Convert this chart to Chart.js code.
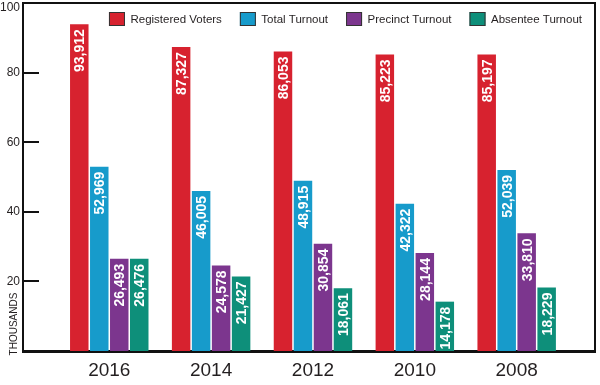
<!DOCTYPE html>
<html><head><meta charset="utf-8">
<script src="https://cdn.jsdelivr.net/npm/chart.js@4"></script>
<style>html,body{margin:0;padding:0;background:#fff}#wrap{width:600px;height:385px}</style>
</head><body><div id="wrap"><canvas id="c" width="600" height="385"></canvas></div>
<script>
const years = ['2016', '2014', '2012', '2010', '2008'];
const registeredVoters = [93912, 87327, 86053, 85223, 85197];
const totalTurnout = [52969, 46005, 48915, 42322, 52039];
const precinctTurnout = [26493, 24578, 30854, 28144, 33810];
const absenteeTurnout = [26476, 21427, 18061, 14178, 18229];
const yTicks = [20000, 40000, 60000, 80000, 100000];
const seriesNames = ['Registered Voters', 'Total Turnout', 'Precinct Turnout', 'Absentee Turnout'];
const seriesColors = ['#D7222F', '#179BCB', '#7C368E', '#0E8F7A'];

const FONT = '"Liberation Sans", Arial, Helvetica, sans-serif';
const INK = '#231f20';

const toPts = arr => arr.map((v, i) => ({ x: i, y: v }));
const datasets = [registeredVoters, totalTurnout, precinctTurnout, absenteeTurnout].map((arr, k) => ({
  label: seriesNames[k],
  data: toPts(arr),
  backgroundColor: seriesColors[k],
  borderWidth: 0,
  categoryPercentage: 0.785,
  barPercentage: 0.925
}));

const barLabels = {
  id: 'barLabels',
  afterDatasetsDraw(chart) {
    const ctx = chart.ctx;
    ctx.save();
    ctx.fillStyle = '#fff';
    ctx.font = 'bold 14px ' + FONT;
    ctx.textAlign = 'right';
    ctx.textBaseline = 'middle';
    chart.data.datasets.forEach((ds, di) => {
      const meta = chart.getDatasetMeta(di);
      meta.data.forEach((el, i) => {
        const v = ds.data[i].y;
        ctx.save();
        ctx.translate(el.x, el.y + 5);
        ctx.rotate(-Math.PI / 2);
        ctx.fillText(v.toLocaleString('en-US'), 0, 1);
        ctx.restore();
      });
    });
    ctx.restore();
  }
};

const frame = {
  id: 'frame',
  afterDraw(chart) {
    const { ctx, chartArea: a } = chart;
    const y = chart.scales.y;
    ctx.save();
    // top and right border of the plot box
    ctx.strokeStyle = '#111';
    ctx.lineWidth = 2;
    ctx.beginPath();
    ctx.moveTo(a.left, a.top);
    ctx.lineTo(a.right, a.top);
    ctx.lineTo(a.right, a.bottom);
    ctx.stroke();
    // inward tick marks
    yTicks.forEach(v => {
      if (v >= y.max) return;
      const py = Math.round(y.getPixelForValue(v));
      ctx.beginPath();
      ctx.moveTo(a.left, py);
      ctx.lineTo(a.left + 16, py);
      ctx.stroke();
    });
    // y tick labels
    ctx.fillStyle = INK;
    ctx.font = '12px ' + FONT;
    ctx.textAlign = 'right';
    ctx.textBaseline = 'middle';
    yTicks.forEach(v => {
      const py = Math.max(y.getPixelForValue(v), a.top + 5);
      ctx.fillText(String(v / 1000), a.left - 3, py);
    });
    // axis unit
    ctx.save();
    ctx.translate(14, a.bottom - 27);
    ctx.rotate(-Math.PI / 2);
    ctx.font = '10px "Liberation Sans Narrow", "Arial Narrow", ' + FONT;
    ctx.textAlign = 'center';
    ctx.textBaseline = 'middle';
    ctx.fillText('THOUSANDS', 0, 0);
    ctx.restore();
    // legend (top-right, inside plot box)
    ctx.font = '11.5px ' + FONT;
    ctx.textAlign = 'left';
    ctx.textBaseline = 'middle';
    const boxW = 16, boxH = 14, textGap = 5.5, itemGap = 18;
    let xr = a.right - 13;
    const boxTop = a.top + 9;
    for (let k = seriesNames.length - 1; k >= 0; k--) {
      const tw = ctx.measureText(seriesNames[k]).width;
      const x0 = xr - tw - textGap - boxW;
      ctx.fillStyle = seriesColors[k];
      ctx.fillRect(x0, boxTop, boxW, boxH);
      ctx.strokeStyle = '#333';
      ctx.lineWidth = 1;
      ctx.strokeRect(x0 + 0.5, boxTop + 0.5, boxW - 1, boxH - 1);
      ctx.fillStyle = INK;
      ctx.fillText(seriesNames[k], x0 + boxW + textGap, boxTop + boxH / 2 + 0.5);
      xr = x0 - itemGap;
    }
    ctx.restore();
  }
};

new Chart(document.getElementById('c'), {
  type: 'bar',
  data: { datasets },
  options: {
    responsive: false,
    animation: false,
    devicePixelRatio: 1,
    layout: { padding: { top: 3, right: 5, left: 0, bottom: 0 } },
    plugins: {
      legend: { display: false },
      tooltip: { enabled: false }
    },
    scales: {
      x: {
        type: 'linear',
        min: -0.847,
        max: 4.769,
        offset: false,
        afterBuildTicks: s => { s.ticks = years.map((_, i) => ({ value: i })); },
        grid: { display: false, drawTicks: false, offset: false },
        border: { display: true, color: '#111', width: 3 },
        ticks: {
          autoSkip: false, maxRotation: 0, padding: 8, color: INK,
          font: { family: FONT, size: 19 },
          callback: v => years[v] ?? ''
        },
        afterFit: s => { s.height = 34; s.paddingLeft = 0; s.paddingRight = 0; }
      },
      y: {
        min: 0,
        max: 100000,
        afterBuildTicks: s => { s.ticks = yTicks.map(v => ({ value: v })); },
        grid: { display: false },
        border: { display: true, color: '#111', width: 2 },
        ticks: { display: false },
        afterFit: s => { s.width = 23; s.paddingTop = 0; s.paddingBottom = 0; }
      }
    }
  },
  plugins: [barLabels, frame]
});
</script>
</body></html>
